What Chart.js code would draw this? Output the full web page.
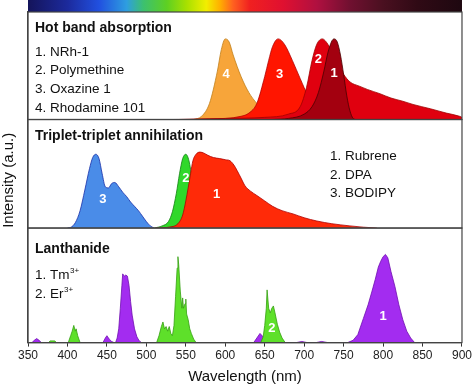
<!DOCTYPE html>
<html>
<head>
<meta charset="utf-8">
<script src="https://cdn.jsdelivr.net/npm/chart.js@4.4.0/dist/chart.umd.min.js"></script>
<style>
  body { margin: 0; background: #fff; }
  canvas { display: block; }
</style>
</head>
<body>
<canvas id="spectra" width="474" height="386"></canvas>
<script>
// x axis ticks (nm)
const xTicks = [350, 400, 450, 500, 550, 600, 650, 700, 750, 800, 850, 900];

// --- panel 1: hot band absorption, [wavelength, intensity]
const hotNames = ['NRh-1', 'Polymethine', 'Oxazine 1', 'Rhodamine 101'];
const nrh1 = [[660,0],[680,0.01],[700,0.05],[710,0.12],[718,0.25],[725,0.45],[730,0.62],[735,0.73],[738,0.75],
  [742,0.72],[746,0.6],[750,0.42],[754,0.22],[758,0.08],[762,0.01],[765,0]];
const polymethine = [[540,0],[600,0.01],[650,0.02],[680,0.05],[695,0.12],[703,0.3],[710,0.55],[716,0.7],[723,0.75],
  [730,0.7],[740,0.55],[750,0.42],[758,0.35],[770,0.31],[780,0.28],[796,0.24],[810,0.2],[825,0.17],[838,0.14],
  [860,0.1],[880,0.06],[897,0.03],[900,0.02]];
const oxazine1 = [[530,0],[580,0.005],[620,0.03],[630,0.06],[640,0.15],[650,0.4],[655,0.55],[660,0.68],[667,0.75],
  [675,0.7],[685,0.55],[695,0.38],[705,0.22],[715,0.12],[730,0.05],[750,0.02],[780,0]];
const rhodamine101 = [[560,0],[570,0.03],[580,0.15],[590,0.45],[595,0.65],[600,0.75],[605,0.72],[610,0.6],[620,0.4],
  [630,0.25],[640,0.15],[650,0.08],[660,0.04],[680,0.01],[700,0]];
const hotMarks = [[738,0.43,'1'],[718,0.56,'2'],[669,0.42,'3'],[601,0.42,'4']];

// --- panel 2: triplet-triplet annihilation
const ttaNames = ['Rubrene', 'DPA', 'BODIPY'];
const rubrene = [[512,0],[530,0.01],[540,0.04],[546,0.12],[550,0.25],[553,0.37],[556,0.5],[559,0.62],[563,0.68],
  [568,0.7],[573,0.69],[578,0.67],[585,0.65],[593,0.64],[600,0.63],[606,0.62],[611,0.58],[615,0.53],[620,0.46],
  [625,0.39],[632,0.34],[640,0.3],[650,0.25],[660,0.2],[672,0.16],[686,0.13],[700,0.095],[716,0.065],[735,0.04],
  [758,0.02],[775,0.008],[792,0]];
const dpa = [[510,0],[520,0.02],[528,0.06],[533,0.15],[538,0.32],[542,0.5],[546,0.64],[550,0.68],[554,0.62],
  [558,0.45],[562,0.28],[566,0.15],[570,0.07],[580,0.02],[590,0]];
const bodipy = [[400,0],[405,0.01],[410,0.05],[416,0.16],[422,0.35],[428,0.55],[432,0.65],[436,0.68],[440,0.64],
  [444,0.5],[448,0.38],[452,0.37],[456,0.41],[460,0.42],[465,0.38],[470,0.33],[475,0.29],[480,0.24],[485,0.2],
  [490,0.16],[495,0.11],[500,0.06],[505,0.02],[510,0]];
const ttaMarks = [[589,0.31,'1'],[550,0.46,'2'],[445,0.26,'3']];

// --- panel 3: lanthanide
const lnNames = ['Tm', 'Er'];
const tm = [[355,0],[358,0.02],[361,0.035],[364,0.02],[367,0],
  [445,0],[448,0.04],[450,0.06],[453,0.03],[456,0.01],[459,0],
  [461,0],[463,0.04],[465,0.12],[467,0.3],[469,0.5],[470,0.6],[472,0.58],[474,0.59],[476,0.58],[478,0.5],
  [480,0.36],[482,0.24],[485,0.12],[488,0.05],[491,0.015],[494,0],
  [636,0],[640,0.04],[644,0.08],[648,0.05],[652,0.02],[656,0],
  [690,0],[697,0.01],[704,0],[715,0],[722,0.01],[730,0],
  [755,0],[762,0.02],[768,0.07],[775,0.21],[781,0.33],[786,0.45],[790,0.55],[794,0.66],[797,0.71],[800,0.75],
  [803,0.77],[806,0.74],[810,0.62],[815,0.49],[820,0.33],[825,0.2],[830,0.1],[835,0.04],[840,0]];
const er = [[376,0],[378,0.015],[384,0.015],[386,0],
  [401,0],[404,0.06],[406,0.1],[408,0.15],[410,0.1],[411,0.12],[413,0.06],[416,0],
  [513,0],[516,0.06],[519,0.14],[521,0.18],[523,0.12],[525,0.14],[527,0.1],[529,0.14],[531,0.08],[533,0.06],
  [535,0.15],[537,0.4],[539,0.65],[540,0.75],[541,0.68],[543,0.45],[545,0.3],[546,0.39],[547,0.3],[549,0.34],
  [550,0.38],[551,0.25],[553,0.2],[555,0.12],[557,0.08],[560,0.03],[563,0],
  [645,0],[648,0.05],[650,0.15],[652,0.3],[653,0.46],[655,0.3],[657,0.26],[659,0.3],[661,0.32],[663,0.26],
  [666,0.16],[669,0.09],[672,0.04],[676,0]];
const lnMarks = [[800,0.23,'1'],[659,0.12,'2']];

const FONT = '"Liberation Sans", Arial, sans-serif';

function spectrum(points, axis, fill, line, smooth) {
  return {
    data: points.map(p => ({ x: p[0], y: p[1] })),
    yAxisID: axis,
    backgroundColor: fill,
    borderColor: line,
    borderWidth: 0.8,
    fill: 'origin',
    pointRadius: 0,
    cubicInterpolationMode: smooth ? 'monotone' : 'default',
    tension: smooth ? 0.4 : 0
  };
}

const datasets = [
  spectrum(nrh1, 'y1', '#a3000f', '#4a0000', true),
  spectrum(polymethine, 'y1', '#e0000f', '#a00000', true),
  spectrum(oxazine1, 'y1', '#ff1500', '#b00000', true),
  spectrum(rhodamine101, 'y1', '#f7a53a', '#c0801c', true),
  spectrum(rubrene, 'y2', '#ff2a08', '#b00000', true),
  spectrum(dpa, 'y2', '#30d82a', '#138013', true),
  spectrum(bodipy, 'y2', '#4a8ce8', '#1a30a8', true),
  spectrum(er, 'y3', '#5ee02a', '#35a012', false),
  spectrum(tm, 'y3', '#a32cf0', '#7010b0', false)
];

function panelAxis(weight, stackWeight) {
  return {
    type: 'linear', position: 'left', stack: 'panels', stackWeight: stackWeight, weight: weight,
    min: 0, max: 1,
    ticks: { display: false },
    grid: { display: false, drawTicks: false },
    border: { display: true, color: '#444', width: 1.2 }
  };
}

const decor = {
  id: 'decor',
  beforeDraw(chart) {
    const { ctx, chartArea, scales } = chart;
    const x = scales.x;
    // spectrum colour bar above the panels
    const g = ctx.createLinearGradient(chartArea.left, 0, chartArea.right, 0);
    const stops = [[350,'#14145a'],[400,'#1c2a9c'],[440,'#2150e0'],[475,'#2e9ee0'],[496,'#3cc070'],
      [526,'#5ed022'],[551,'#a8e000'],[576,'#f2ee00'],[593,'#ffb000'],[610,'#ff6020'],[631,'#f02020'],
      [673,'#e01030'],[716,'#b01040'],[758,'#701030'],[800,'#4a1020'],[843,'#300a15'],[900,'#1e0810']];
    stops.forEach(s => g.addColorStop((s[0] - x.min) / (x.max - x.min), s[1]));
    ctx.fillStyle = g;
    ctx.fillRect(chartArea.left, 0, chartArea.right - chartArea.left, chartArea.top);
  },
  afterDatasetsDraw(chart) {
    const { ctx, chartArea, scales } = chart;
    ctx.save();
    // frames around the three panels
    ctx.strokeStyle = '#444';
    ctx.lineWidth = 1.2;
    ['y1', 'y2', 'y3'].forEach(id => {
      const s = scales[id];
      ctx.strokeRect(chartArea.left, s.top, chartArea.right - chartArea.left, s.bottom - s.top);
    });
    // numbers on the curves
    ctx.fillStyle = '#fff';
    ctx.font = 'bold 13px ' + FONT;
    ctx.textAlign = 'center';
    ctx.textBaseline = 'middle';
    [[hotMarks, 'y1'], [ttaMarks, 'y2'], [lnMarks, 'y3']].forEach(([marks, id]) => {
      marks.forEach(m => ctx.fillText(m[2], scales.x.getPixelForValue(m[0]), scales[id].getPixelForValue(m[1])));
    });
    ctx.restore();
  },
  afterDraw(chart) {
    const { ctx, chartArea, scales } = chart;
    const left = chartArea.left + 7;
    ctx.save();
    ctx.fillStyle = '#111';
    ctx.textBaseline = 'middle';
    ctx.textAlign = 'left';
    const t1 = scales.y1.top, t2 = scales.y2.top, t3 = scales.y3.top;
    ctx.font = 'bold 14px ' + FONT;
    ctx.fillText('Hot band absorption', left, t1 + 16);
    ctx.fillText('Triplet-triplet annihilation', left, t2 + 17);
    ctx.fillText('Lanthanide', left, t3 + 21);
    ctx.font = '13.5px ' + FONT;
    hotNames.forEach((n, i) => ctx.fillText((i + 1) + '. ' + n, left, t1 + 40 + i * 18.7));
    ttaNames.forEach((n, i) => ctx.fillText((i + 1) + '. ' + n, chartArea.left + 302, t2 + 37 + i * 18.5));
    lnNames.forEach((n, i) => {
      const y = t3 + 47 + i * 19;
      const s = (i + 1) + '. ' + n;
      ctx.font = '13.5px ' + FONT;
      ctx.fillText(s, left, y);
      const w = ctx.measureText(s).width;
      ctx.font = '8px ' + FONT;
      ctx.fillText('3+', left + w + 0.5, y - 4);
    });
    // y title spanning all panels
    ctx.font = '15px ' + FONT;
    ctx.textAlign = 'center';
    ctx.translate(9, (chartArea.top + chartArea.bottom) / 2 + 3);
    ctx.rotate(-Math.PI / 2);
    ctx.fillText('Intensity (a.u.)', 0, 0);
    ctx.restore();
  }
};

new Chart(document.getElementById('spectra'), {
  type: 'line',
  data: { datasets: datasets },
  plugins: [decor],
  options: {
    responsive: false,
    animation: false,
    layout: { padding: { left: 28, right: 12, top: 12, bottom: 0 } },
    plugins: { legend: { display: false }, tooltip: { enabled: false } },
    scales: {
      x: {
        type: 'linear', min: 350, max: 900,
        afterBuildTicks: axis => { axis.ticks = xTicks.map(v => ({ value: v })); },
        ticks: { color: '#222', font: { size: 12, family: FONT }, padding: 2, maxRotation: 0, autoSkip: false },
        grid: { drawOnChartArea: false, tickLength: 4, color: '#333' },
        border: { color: '#333', width: 1.2 },
        title: { display: true, text: 'Wavelength (nm)', color: '#111', font: { size: 15, family: FONT }, padding: { top: 3, bottom: 0 } }
      },
      y1: panelAxis(3, 107),
      y2: panelAxis(2, 108),
      y3: panelAxis(1, 114)
    }
  }
});
</script>
</body>
</html>
